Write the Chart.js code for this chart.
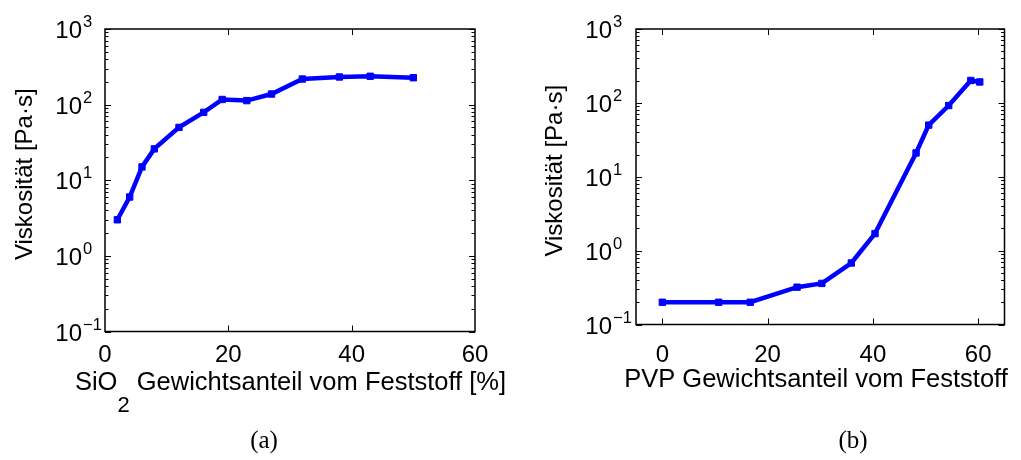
<!DOCTYPE html>
<html>
<head>
<meta charset="utf-8">
<script src="https://cdn.jsdelivr.net/npm/chart.js@4/dist/chart.umd.min.js"></script>
<style>
  html, body { margin: 0; padding: 0; background: #fff; }
  #fig { position: relative; width: 1021px; height: 460px; background: #fff; }
  canvas { position: absolute; top: 0; }
</style>
</head>
<body>
<div id="fig">
  <canvas id="panelA" width="510" height="460" style="left:0"></canvas>
  <canvas id="panelB" width="511" height="460" style="left:510px"></canvas>
</div>
<script>
// Panel (a): SiO2 share of the solids vs. viscosity
const sio2Share     = [2, 4, 6, 8, 12, 16, 19, 23, 27, 32, 38, 43, 50];
const sio2Viscosity = [3, 6, 15, 26, 50, 79, 117, 113, 138, 218, 232, 237, 227];

// Panel (b): PVP share of the solids vs. viscosity
const pvpShare      = [0, 10.7, 16.7, 25.6, 30.3, 35.9, 40.4, 48.2, 50.6, 54.4, 58.6, 60.3];
const pvpViscosity  = [0.2, 0.2, 0.2, 0.32, 0.36, 0.68, 1.7, 21, 50, 92, 201, 192];

// Axis ticks
const xTickValues   = [0, 20, 40, 60];
const yExponents    = [-1, 0, 1, 2, 3];

const yTitle = 'Viskosität [Pa·s]';
const SANS = '"Liberation Sans", Arial, Helvetica, sans-serif';
const SERIF = '"Liberation Serif", "Times New Roman", serif';

// Draws the boxed frame with inward ticks and all axis texts.
const framePlugin = {
  id: 'frame',
  afterDatasetsDraw(chart, args, o) {
    const ctx = chart.ctx;
    const { left: L, right: R, top: T, bottom: B } = chart.chartArea;
    const xs = chart.scales.x, ys = chart.scales.y;
    ctx.save();
    ctx.strokeStyle = '#000';
    ctx.fillStyle = '#000';

    // box
    ctx.lineWidth = 1.5;
    ctx.strokeRect(L, T, R - L, B - T);

    // x ticks (bottom and top, inward)
    ctx.lineWidth = 1;
    ctx.beginPath();
    xTickValues.forEach(v => {
      const px = Math.round(xs.getPixelForValue(v)) + 0.5;
      if (px > L + 1 && px < R - 1) {
        ctx.moveTo(px, B); ctx.lineTo(px, B - 6);
        ctx.moveTo(px, T); ctx.lineTo(px, T + 6);
      }
    });
    // y ticks: decades plus minor ticks (left and right, inward)
    const eMin = yExponents[0], eMax = yExponents[yExponents.length - 1];
    for (let e = eMin; e <= eMax; e++) {
      for (let m = 1; m <= 9; m++) {
        if (e === eMax && m > 1) break;
        const py = Math.round(ys.getPixelForValue(m * Math.pow(10, e))) + 0.5;
        const len = m === 1 ? 6 : 3.5;
        ctx.moveTo(L, py); ctx.lineTo(L + len, py);
        ctx.moveTo(R, py); ctx.lineTo(R - len, py);
      }
    }
    ctx.stroke();

    // x tick labels
    ctx.font = '24px ' + SANS;
    ctx.textAlign = 'center';
    ctx.textBaseline = 'alphabetic';
    xTickValues.forEach(v => {
      ctx.fillText(String(v), xs.getPixelForValue(v), o.xLabelBaseline);
    });

    // y tick labels as 10 with superscript exponents
    yExponents.forEach(e => {
      const py = ys.getPixelForValue(Math.pow(10, e));
      ctx.font = '24px ' + SANS;
      ctx.textAlign = 'right';
      ctx.fillText('10', o.yLabelRight, py + 9);
      ctx.font = '16.5px ' + SANS;
      ctx.textAlign = 'left';
      ctx.fillText(e < 0 ? '\u2212' + Math.abs(e) : String(e), o.yLabelRight + 1, py - 2);
    });

    // y axis title (rotated)
    ctx.save();
    ctx.translate(o.yTitleX, (T + B) / 2 - 6);
    ctx.rotate(-Math.PI / 2);
    ctx.font = '24px ' + SANS;
    ctx.textAlign = 'center';
    ctx.fillText(yTitle, 0, 0);
    ctx.restore();

    // x axis title, pieces with optional subscript
    const mainFont = '25.5px ' + SANS, subFont = '22px ' + SANS;
    let total = 0;
    o.xTitle.forEach(p => { ctx.font = p.sub ? subFont : mainFont; total += ctx.measureText(p.text).width; });
    let x = o.xTitleCenter - total / 2;
    ctx.textAlign = 'left';
    o.xTitle.forEach(p => {
      ctx.font = p.sub ? subFont : mainFont;
      ctx.fillText(p.text, x, o.xTitleBaseline + (p.sub ? 22 : 0));
      x += ctx.measureText(p.text).width;
    });

    // panel caption
    ctx.font = '25px ' + SERIF;
    ctx.textAlign = 'center';
    ctx.fillText(o.caption, o.captionX, 448);
    ctx.restore();
  }
};

function makePanel(id, shares, values, area, xMin, xMax, opts) {
  const canvas = document.getElementById(id);
  const W = canvas.width, H = canvas.height;
  return new Chart(canvas, {
    type: 'line',
    data: {
      datasets: [{
        data: shares.map((s, i) => ({ x: s, y: values[i] })),
        borderColor: '#0000ff',
        backgroundColor: '#0000ff',
        borderWidth: 4.5,
        pointStyle: 'rect',
        pointRadius: 4.5,
        pointBorderWidth: 1,
        pointBorderColor: '#0000ff',
        pointBackgroundColor: '#0000ff',
        tension: 0,
        fill: false
      }]
    },
    options: {
      responsive: false,
      animation: false,
      devicePixelRatio: 1,
      layout: {
        padding: { left: area.left, top: area.top, right: W - area.right, bottom: H - area.bottom }
      },
      scales: {
        x: { type: 'linear', min: xMin, max: xMax, display: false },
        y: { type: 'logarithmic', min: 0.1, max: 1000, display: false }
      },
      plugins: {
        legend: { display: false },
        tooltip: { enabled: false },
        frame: opts
      }
    },
    plugins: [framePlugin]
  });
}

makePanel('panelA', sio2Share, sio2Viscosity,
  { left: 105, top: 29, right: 475, bottom: 331.5 }, 0, 60,
  {
    xLabelBaseline: 362,
    yLabelRight: 82,
    yTitleX: 32,
    xTitle: [{ text: 'SiO' }, { text: '2', sub: true }, { text: ' Gewichtsanteil vom Feststoff [%]' }],
    xTitleCenter: 290.5,
    xTitleBaseline: 390,
    caption: '(a)',
    captionX: 264
  });

makePanel('panelB', pvpShare, pvpViscosity,
  { left: 126, top: 29, right: 494.5, bottom: 324.5 }, -5, 65,
  {
    xLabelBaseline: 362,
    yLabelRight: 102,
    yTitleX: 52,
    xTitle: [{ text: 'PVP Gewichtsanteil vom Feststoff' }],
    xTitleCenter: 306,
    xTitleBaseline: 387,
    caption: '(b)',
    captionX: 343
  });
</script>
</body>
</html>
